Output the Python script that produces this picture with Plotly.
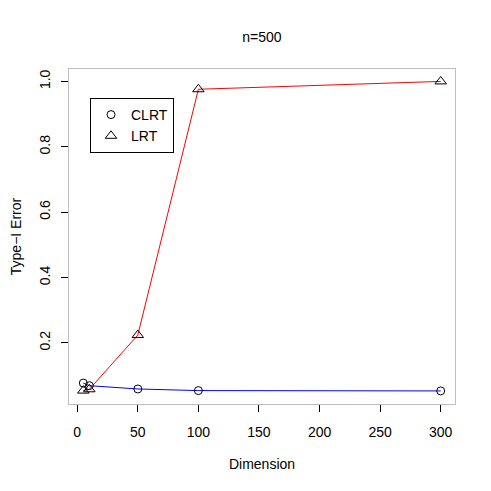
import plotly.graph_objects as go

dims = [5, 10, 50, 100, 300]
clrt = [0.077, 0.069, 0.059, 0.054, 0.053]
lrt = [0.054, 0.058, 0.224, 0.976, 1.0]
x_ticks = [0, 50, 100, 150, 200, 250, 300]
y_ticks = [0.2, 0.4, 0.6, 0.8, 1.0]
y_tick_text = ["0.2", "0.4", "0.6", "0.8", "1.0"]

FONT = "Liberation Sans, Arial, sans-serif"

# page body has an 8px margin, so the figure is drawn 8px in from the window edge
OFF = 8
W = H = 491 - OFF
L, R, T, B = 69 - OFF, 36, 69 - OFF, 87

fig = go.Figure()
fig.add_trace(go.Scatter(x=dims, y=clrt, mode="lines", line=dict(color="blue", width=1),
                         showlegend=False, hoverinfo="skip"))
fig.add_trace(go.Scatter(x=dims, y=lrt, mode="lines", line=dict(color="red", width=1),
                         showlegend=False, hoverinfo="skip"))
fig.add_trace(go.Scatter(x=dims, y=clrt, mode="markers", name="CLRT",
                         marker=dict(symbol="circle-open", size=8, color="black",
                                     line=dict(width=1, color="black"))))
fig.add_trace(go.Scatter(x=dims, y=lrt, mode="markers", name="LRT",
                         marker=dict(symbol="triangle-up-open", size=10, color="black",
                                     line=dict(width=1, color="black"))))

fig.update_layout(
    width=W, height=H,
    margin=dict(l=L, r=R, t=T, b=B, pad=0, autoexpand=False),
    plot_bgcolor="white", paper_bgcolor="white",
    font=dict(family=FONT, size=14, color="black"),
    title=dict(text="n=500", x=(L + (W - R)) / 2 / W, xanchor="center",
               y=1 - (37 - OFF) / H, yanchor="middle", font=dict(size=14)),
    legend=dict(x=(90 - 69) / 386, y=(404 - 98) / 335, xanchor="left", yanchor="top",
                bordercolor="black", borderwidth=1, bgcolor="white",
                font=dict(size=14), itemwidth=30, tracegroupgap=0),
    showlegend=True,
)
fig.update_xaxes(range=[-6.8, 311.8], tickvals=x_ticks, ticks="outside", ticklen=7,
                 tickcolor="black", tickwidth=1, showgrid=False, zeroline=False,
                 showline=True, linecolor="#BEBEBE", linewidth=1, mirror=True,
                 automargin=False, ticklabelstandoff=8, tickfont=dict(size=14),
                 title=dict(text="Dimension", standoff=20, font=dict(size=14)))
fig.update_yaxes(range=[0.013, 1.038], tickvals=y_ticks, ticktext=y_tick_text, ticks="outside",
                 ticklen=7, tickcolor="black", tickwidth=1, showgrid=False, zeroline=False,
                 showline=True, linecolor="#BEBEBE", linewidth=1, mirror=True,
                 automargin=False, tickangle=-90, ticklabelstandoff=5, tickfont=dict(size=14),
                 title=dict(text="Type\u2212I Error", standoff=26, font=dict(size=14)))

fig.write_html("out.html")
